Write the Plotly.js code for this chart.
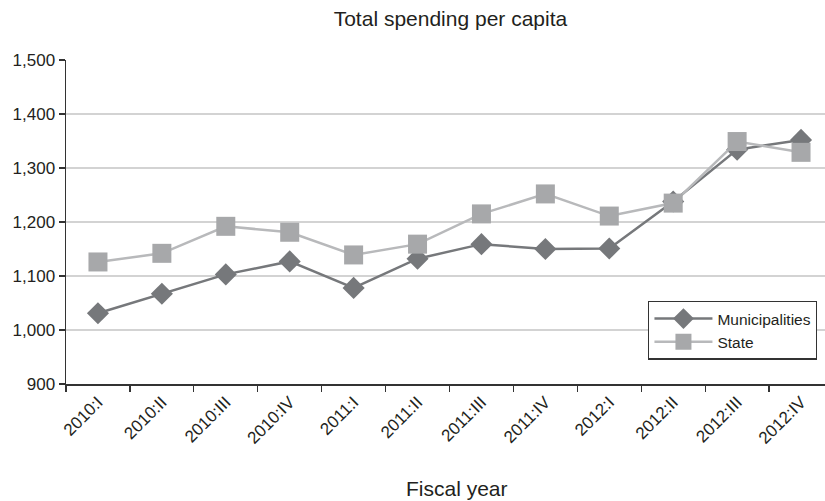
<!DOCTYPE html>
<html>
<head>
<meta charset="utf-8">
<script src="https://cdn.plot.ly/plotly-3.0.1.min.js"></script>
<style>html,body{margin:0;padding:0;background:#fff;}#chart{width:825px;height:501px;}</style>
</head>
<body>
<div id="chart"></div>
<script>
const categories = ["2010:I","2010:II","2010:III","2010:IV","2011:I","2011:II","2011:III","2011:IV","2012:I","2012:II","2012:III","2012:IV"];
const municipalities = [1031, 1067, 1103, 1127, 1078, 1132, 1159, 1150, 1151, 1238, 1334, 1352];
const state = [1126, 1142, 1192, 1181, 1139, 1159, 1215, 1252, 1211, 1235, 1349, 1329];
const yTicks = [900, 1000, 1100, 1200, 1300, 1400, 1500];

const fam = "Liberation Sans, Arial, Helvetica, sans-serif";
const ink = "#231f20";

const traces = [
  {
    x: categories, y: municipalities, name: "Municipalities", type: "scatter", mode: "lines+markers",
    line: {color: "#76787b", width: 2.5},
    marker: {symbol: "diamond", size: 17, color: "#76787b"}
  },
  {
    x: categories, y: state, name: "State", type: "scatter", mode: "lines+markers",
    line: {color: "#b8b9bb", width: 2.5},
    marker: {symbol: "square", size: 19, color: "#a7a8aa"}
  }
];

const layout = {
  width: 825, height: 501,
  margin: {l: 66, r: 0, t: 60, b: 117},
  paper_bgcolor: "#fff", plot_bgcolor: "#fff",
  font: {family: fam, color: ink, size: 16},
  showlegend: true,
  title: {text: "Total spending per capita", x: 0.546, xanchor: "center", y: 0.962, yanchor: "middle", font: {family: fam, size: 21, color: ink}},
  xaxis: {
    type: "category",
    tickvals: categories, ticktext: categories,
    tickangle: -45, ticks: "outside", tickson: "boundaries", ticklen: 6, tickcolor: "#333", tickwidth: 1.3,
    showline: true, linecolor: "#333", linewidth: 1.5, showgrid: false,
    tickfont: {family: fam, size: 17, color: ink},
    range: [-0.5, 11.375], fixedrange: true
  },
  yaxis: {
    range: [900, 1500], tickvals: yTicks, tickformat: ",d",
    ticks: "outside", ticklen: 6, tickcolor: "#333", tickwidth: 1.3,
    showline: true, linecolor: "#333", linewidth: 1.5,
    showgrid: true, gridcolor: "#d3d3d3", gridwidth: 1.5, zeroline: false,
    tickfont: {family: fam, size: 17, color: ink}
  },
  legend: {
    x: 0.767, y: 0.257, xanchor: "left", yanchor: "top",
    bordercolor: "#333", borderwidth: 1.3, bgcolor: "#fff",
    itemwidth: 58,
    font: {family: fam, size: 15.5, color: ink}
  },
  annotations: [{
    text: "Fiscal year", xref: "paper", yref: "paper", x: 0.515, y: -0.321,
    xanchor: "center", yanchor: "middle", showarrow: false,
    font: {family: fam, size: 21, color: ink}
  }]
};

Plotly.newPlot("chart", traces, layout, {staticPlot: true, displayModeBar: false});
</script>
</body>
</html>
